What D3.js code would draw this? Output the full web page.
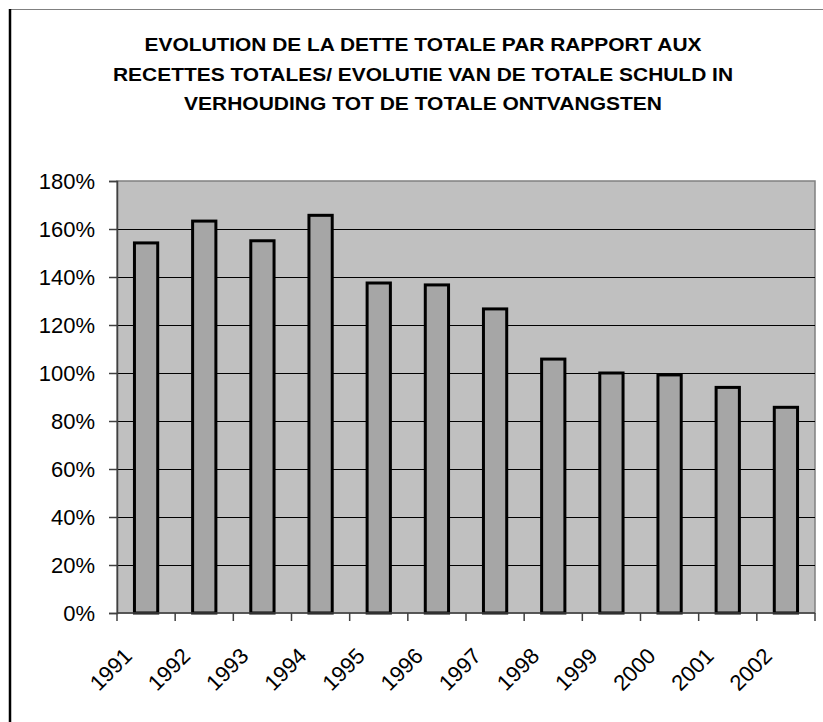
<!DOCTYPE html>
<meta charset="utf-8">
<title>Dette totale / recettes totales</title>
<body>
<script src="https://cdn.jsdelivr.net/npm/d3@7"></script>
<style>
html, body {
    margin: 0;
    background: #fff;
}
svg text {
    font-family: Arial, "Liberation Sans", sans-serif;
    fill: #000;
}
</style>
<script>
var years = ["1991", "1992", "1993", "1994", "1995", "1996", "1997", "1998", "1999", "2000", "2001", "2002"];
var ratio = [1.542, 1.633, 1.551, 1.657, 1.375, 1.367, 1.267, 1.058, 1.0, 0.992, 0.94, 0.857];
var yTicks = [0, 0.2, 0.4, 0.6, 0.8, 1.0, 1.2, 1.4, 1.6, 1.8];
var titleLines = [
    "EVOLUTION DE LA DETTE TOTALE PAR RAPPORT AUX",
    "RECETTES TOTALES/ EVOLUTIE VAN DE TOTALE SCHULD IN",
    "VERHOUDING TOT DE TOTALE ONTVANGSTEN"
];
var titleWidths = [557, 620, 478];

var width = 823,
    height = 722,
    plotLeft = 117,
    plotRight = 815,
    plotTop = 181,
    plotBottom = 613;

var svg = d3.select("body").append("svg")
    .attr("width", width)
    .attr("height", height);

// chart frame (only the left and top edges are visible)
svg.append("line")
    .attr("x1", 9.5).attr("x2", width)
    .attr("y1", 9.5).attr("y2", 9.5)
    .attr("stroke", "#808080");
svg.append("line")
    .attr("x1", 10).attr("x2", 10)
    .attr("y1", 9).attr("y2", height)
    .attr("stroke", "#000")
    .attr("stroke-width", 2.5);

// title
svg.append("g").selectAll("text")
    .data(titleLines)
  .enter().append("text")
    .attr("x", 423)
    .attr("y", function(d, i) { return 51 + i * 29.5; })
    .attr("text-anchor", "middle")
    .attr("textLength", function(d, i) { return titleWidths[i]; })
    .attr("lengthAdjust", "spacingAndGlyphs")
    .style("font-size", "18.5px")
    .style("font-weight", "bold")
    .text(function(d) { return d; });

var x = d3.scaleBand()
    .domain(years)
    .range([plotLeft, plotRight])
    .paddingInner(0.6)
    .paddingOuter(0.3);

var y = d3.scaleLinear()
    .domain([0, 1.8])
    .range([plotBottom, plotTop]);

// plot area
svg.append("rect")
    .attr("x", plotLeft)
    .attr("y", plotTop)
    .attr("width", plotRight - plotLeft)
    .attr("height", plotBottom - plotTop)
    .attr("fill", "#c0c0c0")
    .attr("stroke", "#808080")
    .attr("stroke-width", 1.5);

// gridlines
svg.append("g").selectAll("line")
    .data(yTicks.filter(function(d) { return d > 0 && d < 1.8; }))
  .enter().append("line")
    .attr("x1", plotLeft).attr("x2", plotRight)
    .attr("y1", function(d) { return Math.round(y(d)) + 0.5; })
    .attr("y2", function(d) { return Math.round(y(d)) + 0.5; })
    .attr("stroke", "#000")
    .attr("stroke-width", 1.2);

// bars
svg.append("g").selectAll("rect")
    .data(ratio)
  .enter().append("rect")
    .attr("x", function(d, i) { return x(years[i]); })
    .attr("y", function(d) { return y(d); })
    .attr("width", x.bandwidth())
    .attr("height", function(d) { return plotBottom - y(d); })
    .attr("fill", "#a6a6a6")
    .attr("stroke", "#000")
    .attr("stroke-width", 3);

// y axis
var yAxis = d3.axisLeft(y)
    .tickValues(yTicks)
    .tickSize(8)
    .tickPadding(14)
    .tickFormat(d3.format(".0%"));

var gy = svg.append("g")
    .attr("transform", "translate(" + plotLeft + ",0)")
    .call(yAxis);
gy.select(".domain").attr("stroke", "#404040").attr("stroke-width", 1.5);
gy.selectAll(".tick line").attr("stroke", "#404040").attr("stroke-width", 1.5);
gy.selectAll("text")
    .style("font-size", "22px")
    .style("font-family", "Arial, 'Liberation Sans', sans-serif")
    .attr("fill", "#000");

// x axis: ticks between categories
var step = x.step();
var gx = svg.append("g");
gx.append("line")
    .attr("x1", plotLeft).attr("x2", plotRight)
    .attr("y1", plotBottom).attr("y2", plotBottom)
    .attr("stroke", "#404040")
    .attr("stroke-width", 1.5);
gx.selectAll("line.tick")
    .data(d3.range(years.length + 1))
  .enter().append("line")
    .attr("class", "tick")
    .attr("x1", function(i) { return plotLeft + i * step; })
    .attr("x2", function(i) { return plotLeft + i * step; })
    .attr("y1", plotBottom).attr("y2", plotBottom + 8)
    .attr("stroke", "#404040")
    .attr("stroke-width", 1.5);
gx.selectAll("text.year")
    .data(years)
  .enter().append("text")
    .attr("class", "year")
    .attr("transform", function(d) {
        return "translate(" + [x(d) + x.bandwidth() / 2 - 18, 652] + ") rotate(-45)";
    })
    .attr("text-anchor", "end")
    .attr("dy", "0.35em")
    .style("font-size", "22px")
    .text(function(d) { return d; });
</script>
